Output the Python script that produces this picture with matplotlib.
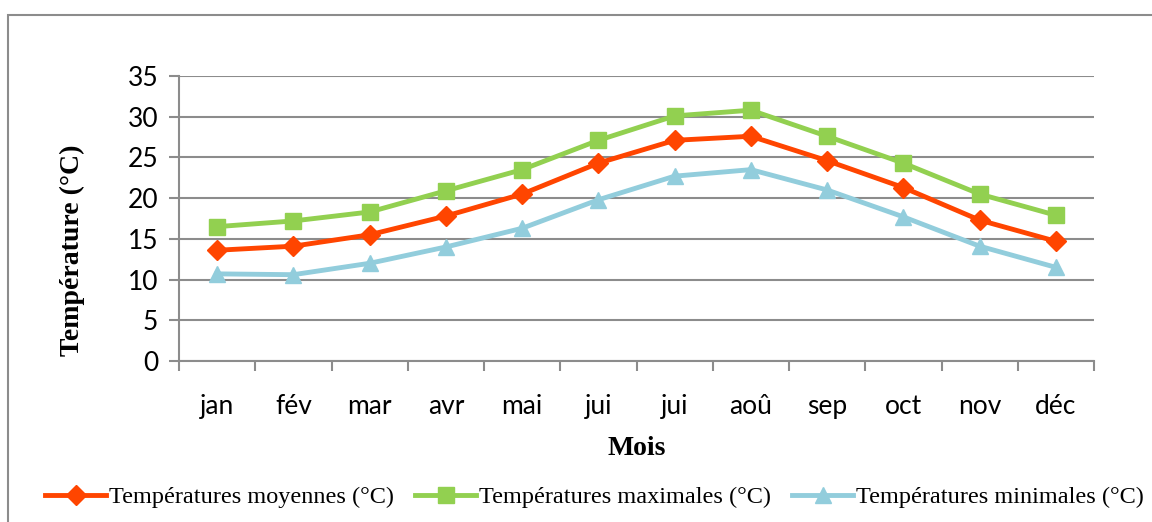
import matplotlib.pyplot as plt
from matplotlib.patches import Rectangle
import numpy as np

# données
mois = ["jan", "fév", "mar", "avr", "mai", "jui", "jui", "aoû", "sep", "oct", "nov", "déc"]
t_moy = [13.6, 14.1, 15.5, 17.8, 20.5, 24.3, 27.1, 27.6, 24.6, 21.3, 17.3, 14.7]
t_max = [16.5, 17.2, 18.3, 20.9, 23.5, 27.1, 30.1, 30.8, 27.6, 24.3, 20.5, 17.9]
t_min = [10.7, 10.6, 12.0, 14.0, 16.3, 19.8, 22.7, 23.5, 21.0, 17.7, 14.1, 11.5]
y_ticks = [0, 5, 10, 15, 20, 25, 30, 35]


def main():
    fig = plt.figure(figsize=(11.52, 5.22), dpi=100)
    # cadre gris autour du graphique
    fig.patches.append(Rectangle((8 / 1152, -0.1), 1.2, 1 - 15 / 522 + 0.1,
                                 transform=fig.transFigure, fill=False,
                                 edgecolor="#8c8c8c", linewidth=1.5))

    ax = fig.add_axes([179 / 1152, 1 - 361 / 522, (1094 - 179) / 1152, (361 - 76) / 522])
    x = np.arange(len(mois))

    ax.plot(x, t_moy, color="#ff4500", linewidth=3.5, marker="D", markersize=10,
            label="Températures moyennes (°C)")
    ax.plot(x, t_max, color="#92d050", linewidth=3.5, marker="s", markersize=12,
            label="Températures maximales (°C)")
    ax.plot(x, t_min, color="#92cddc", linewidth=3.5, marker="^", markersize=12,
            label="Températures minimales (°C)")

    ax.set_xlim(-0.5, len(mois) - 0.5)
    ax.set_ylim(0, 35)
    ax.set_yticks(y_ticks)
    ax.set_xticks(x)
    ax.set_xticklabels(mois)
    ax.set_xticks(np.arange(len(mois) + 1) - 0.5, minor=True)
    ax.tick_params(axis="x", which="major", length=0, pad=24, labelsize=19)
    ax.tick_params(axis="x", which="minor", length=7, color="#8c8c8c", width=1.5)
    ax.tick_params(axis="y", length=7, color="#8c8c8c", width=1.5, labelsize=19, pad=8)
    for lab in ax.get_xticklabels() + ax.get_yticklabels():
        lab.set_family("Lato")

    ax.grid(axis="y", color="#8c8c8c", linewidth=1.5)
    ax.set_axisbelow(True)
    for s in ["top", "right"]:
        ax.spines[s].set_visible(False)
    for s in ["left", "bottom"]:
        ax.spines[s].set_color("#8c8c8c")
        ax.spines[s].set_linewidth(1.5)

    ax.set_ylabel("Température (°C)", family="Liberation Serif", fontweight="bold",
                  fontsize=20)
    ax.yaxis.set_label_coords(-0.103, 0.39)
    ax.set_xlabel("Mois", family="Liberation Serif", fontweight="bold", fontsize=20,
                  labelpad=12)

    fig.legend(loc="center", bbox_to_anchor=(0.516, 1 - 497 / 522), ncol=3, frameon=False,
               prop={"family": "Liberation Serif", "size": 17.5}, handlelength=2.5,
               handletextpad=0.1, columnspacing=0.9)

    fig.savefig("out.png", dpi=100)


if __name__ == "__main__":
    main()
